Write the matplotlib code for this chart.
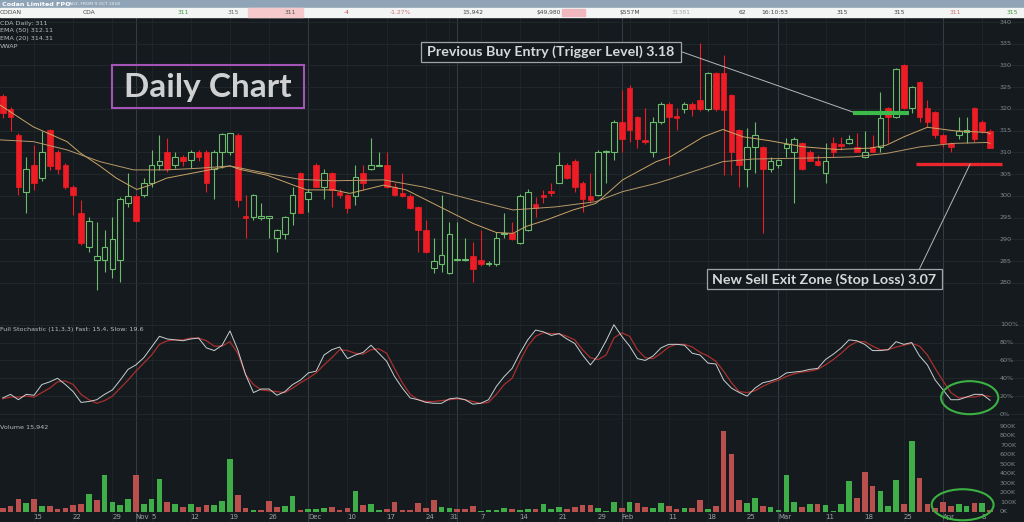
import numpy as np
import matplotlib.pyplot as plt
from matplotlib.patches import Rectangle, Ellipse
from matplotlib.transforms import blended_transform_factory as blend

# ---- price data (cents), one entry per trading day, 9 Oct 2018 -> 9 Apr 2019
opens = [323, 320, 314, 301, 307.1, 304.1, 315.2, 310.2, 307.1, 302.1,
         296.2, 288.3, 285.3, 285.3, 283.1, 285.3, 298.3, 300, 300.2, 303.1,
         307.1, 310.2, 307.1, 309, 308.3, 310.2, 310.2, 306.1, 310.2, 310.2,
         314, 295.5, 295.2, 295, 295, 290.3, 291.3, 296.2, 305.2, 299.2,
         307.1, 302.1, 305.2, 301, 300.2, 300, 305.2, 306.1, 307, 307.1,
         302.1, 300.8, 300, 297.4, 292.2, 283.4, 284.4, 282.2, 285.3, 285.3,
         286.3, 285.3, 284.3, 284.4, 291.2, 291.4, 289.1, 292.2, 298.2, 300.2,
         301.2, 303.1, 307.1, 308.1, 303.1, 300, 300.2, 310, 310.2, 317.1,
         324.8, 318.1, 312.8, 310.2, 317.1, 321.1, 318.5, 320, 321.1, 322.1,
         320, 328.2, 328.2, 323.2, 315.2, 306.1, 311.2, 311.2, 306.1, 307.1,
         311, 310.2, 312.1, 310.2, 308.1, 305.2, 312.1, 312, 312.1, 311.2,
         309, 311.2, 311.2, 320.2, 318.1, 330.1, 320.2, 326.1, 320.2, 319.2,
         314, 312.1, 314, 314.8, 320.2, 317.1, 315]
highs = [323.5, 320.5, 314.5, 309, 311.7, 315, 315.5, 310.5, 307.5, 302.5,
         299.1, 295.2, 294, 292.2, 295.2, 299.8, 305.2, 300.5, 304.1, 310.6,
         314, 313.3, 310, 309.5, 310.5, 310.5, 310.5, 310.5, 314.5, 314.5,
         314.5, 300.2, 300.5, 298.3, 295.5, 292.5, 295.5, 302.1, 305.5, 301.5,
         307.5, 306.1, 305.5, 301.5, 300.5, 307.1, 307.1, 313.3, 310.2, 310.2,
         303, 305.2, 300.5, 297.7, 294.5, 290.3, 300.2, 294.1, 294.1, 290.3,
         289.5, 292.2, 285, 291.8, 296, 294.1, 300.5, 301.5, 299.8, 301.4,
         302.9, 310.2, 307.5, 308.5, 303.5, 305.2, 310.5, 310.5, 317.5, 324.4,
         325.5, 318.5, 320.2, 318.2, 321.5, 321.5, 320.2, 321.5, 321.5, 335.1,
         328.5, 328.5, 332.4, 323.5, 315.5, 315.6, 317.1, 311.5, 309, 308.5,
         313.3, 313.5, 312.5, 310.5, 309.5, 312.2, 313.6, 313.6, 314, 314.4,
         314.9, 314, 324, 320.5, 329.5, 330.3, 325.3, 326.5, 322.1, 319.5,
         314.3, 312.4, 318.2, 318.1, 320.5, 317.5, 315.5]
lows = [318, 315, 300.2, 296, 301.4, 303.5, 306, 305, 301.5, 295.6,
        288.7, 287.2, 278.4, 282.6, 281.1, 280.3, 297.5, 294, 299.8, 302.1,
        306, 305.5, 306.5, 307, 306.5, 308, 301, 299.3, 306.5, 309.5,
        297.5, 290.3, 294.5, 294.5, 290.3, 287.2, 290, 293.3, 296, 296.4,
        302, 299.2, 297.5, 299.5, 296.1, 297.9, 301.4, 306, 306.8, 301.8,
        300, 299.8, 297, 287.2, 287, 282.2, 282.6, 282, 285, 285,
        280.3, 284, 284, 284, 290.3, 289.8, 289, 292, 295.2, 298.3,
        300, 303, 304, 301, 296.4, 298.5, 300, 303.1, 308.3, 310.2,
        312.5, 311, 312, 309, 316.5, 307.1, 315.2, 319, 318.5, 319.5,
        319.5, 319.5, 304.8, 304.8, 302.1, 302.1, 305.2, 291.4, 305.5, 306.5,
        309, 298.3, 306, 308, 307, 303.1, 309, 310.5, 312, 310,
        308.8, 310, 310.2, 312.1, 318, 320, 319, 317.1, 315.9, 313.3,
        311.2, 310.2, 313.1, 312.1, 312.5, 314.5, 311]
closes = [319, 318.2, 302.1, 306.1, 303.1, 310.2, 306.9, 306.1, 302.1, 300.2,
          289.3, 294.3, 286.3, 288.3, 290, 299.2, 300, 294.3, 302.9, 307.1,
          308.1, 306.1, 309, 308.1, 310.2, 309, 303.1, 310.2, 314.2, 314.4,
          299.1, 295, 300.2, 295.4, 295.3, 292.2, 295.2, 300.2, 296.2, 301,
          302.1, 305.2, 301.4, 300.2, 297.2, 304.3, 303.1, 307.1, 307.2, 302.1,
          300.2, 300, 297.2, 292.2, 287.2, 285.1, 286.4, 291.2, 285.5, 285.4,
          283.2, 284.4, 284.5, 290.3, 291.4, 290, 300.1, 301, 297.2, 299.8,
          300.8, 307.1, 304.1, 302.1, 299.4, 299.1, 310.2, 310.3, 317.1, 313.1,
          315.2, 313.1, 312.3, 317.1, 321.1, 318.1, 318.0, 321.1, 320, 319.9,
          328.2, 320, 319.8, 310.2, 307.1, 311.2, 314, 306.1, 308.1, 308.3,
          312, 313.1, 306.1, 308.1, 307.1, 308.1, 310.2, 311.6, 313.1, 310.2,
          310.1, 310, 318, 318.2, 329.1, 320.2, 325, 318.1, 317.1, 314,
          312.1, 311.2, 315, 315.2, 313.1, 315, 311]
volume_k = [35, 60, 130, 95, 130, 60, 60, 28, 35, 70,
            80, 185, 120, 390, 105, 70, 130, 390, 80, 130,
            340, 100, 77, 45, 80, 45, 70, 70, 110, 550,
            180, 35, 17, 17, 110, 45, 63, 170, 17, 28,
            31, 38, 45, 17, 38, 217, 70, 77, 21, 31,
            105, 17, 17, 87, 38, 126, 45, 38, 31, 28,
            60, 7, 17, 17, 35, 25, 17, 28, 25, 80,
            28, 45, 31, 45, 70, 70, 35, 7, 100, 35,
            105, 95, 52, 38, 95, 60, 25, 38, 38, 122,
            31, 60, 850, 605, 122, 87, 147, 63, 45, 21,
            390, 100, 45, 77, 80, 66, 7, 80, 325, 147,
            412, 270, 220, 56, 332, 80, 745, 350, 77, 35,
            105, 63, 77, 56, 87, 87, 17]

stoch_fast = [18, 22, 16, 22, 21, 33, 36, 40, 33, 25,
              13, 14, 16, 22, 27, 38, 50, 55, 63, 75,
              87, 84, 83, 82, 84, 85, 74, 71, 77, 93,
              72, 44, 24, 28, 28, 21, 25, 33, 38, 46,
              48, 66, 72, 75, 62, 66, 69, 77, 68, 59,
              42, 29, 18, 16, 13, 12, 12, 17, 18, 16,
              11, 12, 16, 31, 42, 51, 68, 83, 94, 92,
              88, 90, 84, 79, 66, 55, 66, 82, 100, 87,
              76, 62, 60, 65, 74, 78, 78, 77, 68, 66,
              57, 56, 38, 29, 24, 20, 29, 35, 37, 40,
              46, 47, 48, 50, 51, 61, 67, 74, 83, 82,
              78, 71, 71, 72, 81, 78, 80, 65, 55, 38,
              27, 16, 16, 19, 22, 22, 15.4]
stoch_slow = [17, 19, 19, 20, 19, 24, 29, 36, 37, 33,
              22, 16, 12, 15, 20, 29, 38, 48, 57, 66,
              78, 82, 83, 83, 85, 85, 82, 76, 76, 81,
              68, 44, 33, 27, 26, 25, 24, 29, 35, 40,
              46, 55, 63, 72, 71, 68, 67, 72, 73, 68,
              51, 35, 22, 16, 14, 14, 15, 16, 17, 16,
              14, 12, 13, 22, 33, 40, 59, 76, 87, 91,
              90, 90, 87, 83, 72, 63, 61, 66, 85, 91,
              87, 72, 63, 62, 68, 75, 78, 78, 75, 69,
              65, 59, 48, 35, 25, 24, 26, 31, 35, 38,
              42, 45, 47, 48, 50, 55, 61, 68, 76, 81,
              81, 76, 72, 72, 75, 77, 79, 76, 66, 51,
              37, 24, 18, 19, 19, 21, 19.6]

# EMA readings (day index, value)
ema20_day = [-0.34, 3.9, 8.2, 9.9, 12.4, 14.5, 17.1, 18.8, 20.9, 25.2, 29.0, 30.3,
             33.7, 37.1, 38.8, 42.2, 44.3, 48.6, 51.5, 55.8, 60.0, 63.0, 65.1, 66.8,
             69.4, 72.8, 75.7, 79.1, 83.4, 85.2, 89.4, 91.9, 94.5, 97.9, 102.2, 106.4,
             110.7, 112.8, 115.0, 118.0, 121.4, 125.6, 126]
ema20_val = [320.9, 315.9, 312.5, 309.9, 306.9, 304.1, 301.5, 302.5, 304.1, 305.6, 306.9, 306.1,
             304.8, 302.5, 301.4, 301.4, 300.6, 302.5, 301.4, 297.5, 293.7, 291.6, 291.4, 293.0,
             294.5, 296.8, 298.3, 303.7, 307.9, 309.0, 313.6, 315.3, 313.6, 312.7, 311.3, 310.7,
             311.0, 311.7, 313.6, 315.8, 315.0, 314.6, 314.31]
ema50_day = [-0.34, 3.9, 8.2, 12.4, 16.7, 20.9, 25.2, 29.0, 33.7, 38.0, 42.2, 48.6,
             53.6, 60.0, 65.1, 70.6, 75.7, 79.1, 83.4, 85.2, 89.4, 91.9, 95.8, 102.2,
             108.6, 112.8, 117.1, 121.4, 125.6, 126]
ema50_val = [312.9, 312.5, 310.6, 307.9, 306.0, 306.0, 306.4, 306.9, 305.2, 303.8, 303.5, 303.7,
             302.1, 299.1, 296.8, 297.5, 298.7, 301.0, 302.9, 303.9, 306.4, 307.9, 308.5, 308.7,
             309.0, 309.8, 311.3, 312.1, 312.3, 312.11]

tick_day = [4, 9, 14, 17, 19, 24, 29, 34, 39, 44, 49, 54, 57, 61, 66, 71, 76, 79,
            85, 90, 95, 99, 105, 110, 115, 120, 125]
tick_lbl = ['15', '22', '29', 'Nov', '5', '12', '19', '26', 'Dec', '10', '17', '24',
            '31', '7', '14', '21', '29', 'Feb', '11', '18', '25', 'Mar', '11', '18',
            '25', 'Apr', '8']
week_day = [4, 9, 14, 19, 24, 29, 34, 44, 49, 54, 57, 61, 66, 71, 76, 80, 85, 90,
            95, 100, 105, 110, 115, 125]
month_day = [17, 39, 58, 79, 99, 120]

buy_level = 319.0
stop_level = 307.3

# ---------------------------------------------------------------------------
W, H = 1024, 522
BG = '#141a1d'
GRID = '#222a2e'
RED = '#ee1c24'
GRN = '#6cbb6c'


def fx(px):
    return px / W


def fy(py):
    return 1 - py / H


fig = plt.figure(figsize=(W / 100, H / 100), dpi=100, facecolor=BG)

ax_p = fig.add_axes([0, fy(322), 1, 305 / H])
ax_s = fig.add_axes([0, fy(420), 1, 98 / H])
ax_v = fig.add_axes([0, 0, 1, 102 / H])

ax_p.set_ylim(271.03, 341.15)
ax_s.set_ylim(-6.7, 103.0)
ax_v.set_ylim(-108, 963)

for ax in (ax_p, ax_s, ax_v):
    ax.set_facecolor(BG)
    ax.set_xlim(-0.345, 130.33)
    ax.set_xticks([])
    ax.set_yticks([])
    for s in ax.spines.values():
        s.set_visible(False)
    ax.vlines(week_day, 0, 1, transform=blend(ax.transData, ax.transAxes),
              color='#1f272b', lw=0.6, zorder=0)
    ax.vlines(month_day, 0, 1, transform=blend(ax.transData, ax.transAxes),
              color='#333c41', lw=0.8, zorder=0)
for ax in (ax_p, ax_s):
    ax.axhline(ax.get_ylim()[0], color='#2c3438', lw=1.0)

days = np.arange(len(closes))
o = np.array(opens)
c = np.array(closes)
up = c >= o

# price grid + right labels
for lvl in range(280, 345, 5):
    ax_p.axhline(lvl, color=GRID, lw=0.6, zorder=0)
    ax_p.text(1000 / W, lvl, str(lvl), transform=blend(ax_p.transAxes, ax_p.transData),
              fontsize=4.6, color='#7f878b', va='center', ha='left')

# candles
hi = np.array(highs)
lo = np.array(lows)
ax_p.vlines(days[up], lo[up], hi[up], color=GRN, lw=0.8, zorder=2)
ax_p.vlines(days[~up], lo[~up], hi[~up], color=RED, lw=0.8, zorder=2)
body_lo = np.minimum(o, c)
body_h = np.maximum(np.abs(c - o), 0.15)
ax_p.bar(days[up], body_h[up], bottom=body_lo[up], width=0.72, facecolor=BG,
         edgecolor=GRN, lw=0.8, zorder=3)
ax_p.bar(days[~up], body_h[~up], bottom=body_lo[~up], width=0.72, facecolor=RED,
         edgecolor=RED, lw=0.5, zorder=3)

ax_p.plot(ema20_day, ema20_val, color='#c9a467', lw=0.7, zorder=4)
ax_p.plot(ema50_day, ema50_val, color='#b8996a', lw=0.7, zorder=4)

# trigger / stop lines
ax_p.hlines(buy_level, 108.5, 115.6, color='#3dbb4a', lw=3, zorder=5)
ax_p.hlines(stop_level, 116.6, 127.5, color='#e8262b', lw=2.4, zorder=5)

for i, t in enumerate(['CDA Daily: 311', 'EMA (50) 312.11', 'EMA (20) 314.31', 'VWAP']):
    fig.text(fx(0), fy(23 + 7.7 * i), t, fontsize=4.6, color='#b6bcc0', va='center')

# stochastic
for lvl in range(0, 101, 20):
    ax_s.axhline(lvl, color=GRID, lw=0.6, zorder=0)
    ax_s.text(1000 / W, lvl, f'{lvl}%', transform=blend(ax_s.transAxes, ax_s.transData),
              fontsize=4.6, color='#7f878b', va='center', ha='left')
ax_s.plot(days, stoch_slow, color='#a8302f', lw=0.9, zorder=3)
ax_s.plot(days, stoch_fast, color='#c8d0d2', lw=0.7, zorder=4)
fig.text(fx(0), fy(329.5), 'Full Stochastic (11,3,3) Fast: 15.4, Slow: 19.6',
         fontsize=4.6, color='#b6bcc0', va='center')
ax_s.add_patch(Ellipse((123.4, 18.3), 7.3, 37, fill=False, ec='#3cb043', lw=1.5, zorder=6))

# volume
vol_up = np.r_[up[0], np.diff(c) >= 0]
ax_v.bar(days, volume_k, width=0.72, color=np.where(vol_up, '#3fae49', '#b9504e'), zorder=3)
for lvl in range(0, 901, 100):
    ax_v.text(1000 / W, lvl, f'{lvl}K', transform=blend(ax_v.transAxes, ax_v.transData),
              fontsize=4.6, color='#7f878b', va='center', ha='left')
fig.text(fx(0), fy(427), 'Volume 15,942', fontsize=4.6, color='#b6bcc0', va='center')
ax_v.add_patch(Ellipse((122.5, 73), 7.9, 326, fill=False, ec='#3cb043', lw=1.5, zorder=6))
for d, lbl in zip(tick_day, tick_lbl):
    ax_v.text(d - 0.05, 0.05, lbl, transform=blend(ax_v.transData, ax_v.transAxes),
              fontsize=5, color='#9aa2a6', va='center', ha='left')

# header
fig.patches.append(Rectangle((0, fy(8)), 1, 8 / H, transform=fig.transFigure,
                             color='#8fa4b6', zorder=0))
fig.patches.append(Rectangle((0, fy(17)), 1, 9 / H, transform=fig.transFigure,
                             color='#f3f4f4', zorder=0))
fig.patches.append(Rectangle((fx(248), fy(17)), 55 / W, 9 / H, transform=fig.transFigure,
                             color='#f6c9cc', zorder=0))
fig.patches.append(Rectangle((fx(562), fy(16)), 23 / W, 7 / H, transform=fig.transFigure,
                             color='#f1b7be', zorder=0))
fig.text(fx(2), fy(4.3), 'Codan Limited FPO', fontsize=4.6, color='white',
         fontweight='bold', va='center')
fig.text(fx(66), fy(4.3), 'DAILY, FROM 9 OCT 2018', fontsize=3.2, color='#eef2f5', va='center')
header = [(0, 'CODAN', '#444'), (83, 'CDA', '#444'), (183, '311', '#3a9a3a'),
          (233, '315', '#666'), (290, '311', '#555'), (347, '-4', '#c04848'),
          (400, '-1.27%', '#d07070'), (473, '15,942', '#444'), (549, '$49,980', '#444'),
          (630, '$557M', '#444'), (681, '31381', '#aaa'), (742, '62', '#444'),
          (775, '16:10:53', '#444'), (842, '315', '#444'), (899, '315', '#444'),
          (955, '311', '#d07070'), (1012, '315', '#3a9a3a')]
for px, t, col in header:
    fig.text(fx(px), fy(12.7), t, fontsize=4.3, color=col, va='center',
             ha='left' if px < 100 else 'center')

# annotations
fig.patches.append(Rectangle((fx(112), fy(108)), 192 / W, 43 / H, transform=fig.transFigure,
                             fill=False, ec='#a453b6', lw=1.5, zorder=5))
fig.text(fx(208), fy(87), 'Daily Chart', fontsize=24, fontweight='bold', family='Lato',
         color='#cfd0d2', ha='center', va='center')

fig.patches.append(Rectangle((fx(420.7), fy(61.7)), 260.6 / W, 20 / H, transform=fig.transFigure,
                             facecolor=BG, ec='#9ea4a7', lw=0.9, zorder=5))
fig.text(fx(551), fy(51.5), 'Previous Buy Entry (Trigger Level) 3.18', fontsize=10.3,
         fontweight='bold', family='Lato', color='#d6d8da', ha='center', va='center', zorder=6)
fig.patches.append(Rectangle((fx(706.7), fy(289.3)), 235 / W, 20 / H, transform=fig.transFigure,
                             facecolor=BG, ec='#9ea4a7', lw=0.9, zorder=5))
fig.text(fx(824), fy(279.3), 'New Sell Exit Zone (Stop Loss) 3.07', fontsize=10.3,
         fontweight='bold', family='Lato', color='#d6d8da', ha='center', va='center', zorder=6)

fig.lines.append(plt.Line2D([fx(681.3), fx(852.7)], [fy(51.7), fy(112)],
                            transform=fig.transFigure, color='#b4b8ba', lw=0.7))
fig.lines.append(plt.Line2D([fx(970), fx(919.3)], [fy(164.3), fy(269.3)],
                            transform=fig.transFigure, color='#b4b8ba', lw=0.7))

fig.savefig('out.png', dpi=100, facecolor=BG)
